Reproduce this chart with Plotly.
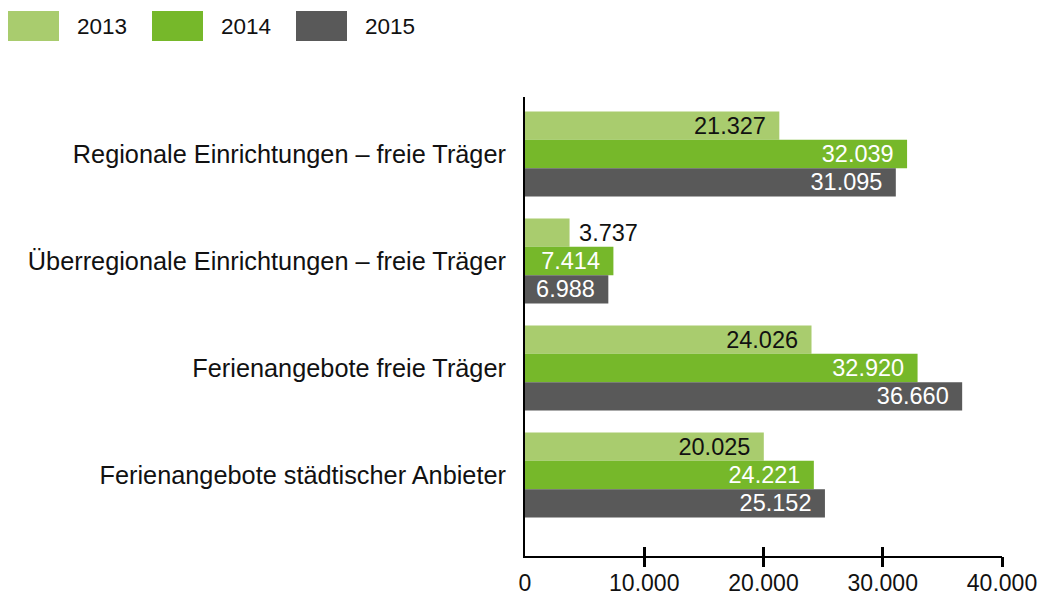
import plotly.graph_objects as go

categories = [
    "Regionale Einrichtungen – freie Träger",
    "Überregionale Einrichtungen – freie Träger",
    "Ferienangebote freie Träger",
    "Ferienangebote städtischer Anbieter",
]
years = ["2013", "2014", "2015"]
values_2013 = [21327, 3737, 24026, 20025]
values_2014 = [32039, 7414, 32920, 24221]
values_2015 = [31095, 6988, 36660, 25152]
x_tickvals = [0, 10000, 20000, 30000, 40000]
x_ticktext = ["0", "10.000", "20.000", "30.000", "40.000"]

colors = ["#A9CC6E", "#76B82A", "#595959"]
inside_text_colors = ["#111111", "#FFFFFF", "#FFFFFF"]
FONT = "Liberation Sans, Arial, Helvetica, sans-serif"
FS_CAT = 25.3
FS_NUM = 23.5
FS_TICK = 23
FS_LEG = 22.5
PAD_IN = "\u00a0\u2006"
PAD_OUT = "\u00a0"

W, H = 1040, 595
L, R, T, B = 525, 38, 97, 39


def fmt(v):
    return f"{v:,}".replace(",", ".")


def bar_width_px(v):
    return v / 40000 * (W - L - R)


fig = go.Figure()
series = [values_2013, values_2014, values_2015]
for name, vals, col, tcol in zip(years, series, colors, inside_text_colors):
    positions = []
    texts = []
    for v in vals:
        label = fmt(v)
        if bar_width_px(v) > len(label) * 12 + 20:
            positions.append("inside")
            texts.append(label + PAD_IN)
        else:
            positions.append("outside")
            texts.append(PAD_OUT + label)
    fig.add_trace(go.Bar(
        name=name,
        y=categories,
        x=vals,
        orientation="h",
        marker=dict(color=col, line=dict(width=0)),
        text=texts,
        textposition=positions,
        insidetextanchor="end",
        constraintext="none",
        insidetextfont=dict(color=tcol, size=FS_NUM, family=FONT),
        outsidetextfont=dict(color="#111111", size=FS_NUM, family=FONT),
        cliponaxis=False,
        showlegend=False,
        hoverinfo="skip",
    ))

# dummy traces so that the tick-mark overlay axes get drawn
for ax in ["x2", "x3"]:
    fig.add_trace(go.Scatter(x=[None], y=[None], xaxis=ax, yaxis="y",
                             mode="markers", showlegend=False, hoverinfo="skip"))

# manual legend (large swatches like the reference)
shapes = []
annotations = []
pw, ph = W - L - R, H - T - B


def px2paper(px, py):
    return (px - L) / pw, (H - B - py) / ph


for i, (name, col) in enumerate(zip(years, colors)):
    x0 = 8 + i * 144
    xa, ya = px2paper(x0, 11)
    xb, yb = px2paper(x0 + 51, 41)
    shapes.append(dict(type="rect", xref="paper", yref="paper", x0=xa, x1=xb,
                       y0=yb, y1=ya, fillcolor=col, line=dict(width=0)))
    tx, ty = px2paper(x0 + 67, 27)
    annotations.append(dict(xref="paper", yref="paper", x=tx, y=ty, text=name,
                            showarrow=False, xanchor="left", yanchor="middle",
                            font=dict(size=FS_LEG, family=FONT, color="#111111")))

tick_axis = dict(
    range=[0, 40000], tickvals=x_tickvals[1:], overlaying="x", anchor="y",
    side="bottom", showgrid=False, zeroline=False, showline=False,
    tickwidth=2.5, tickcolor="#000000", showticklabels=False, automargin=False,
)

fig.update_layout(
    width=W, height=H,
    margin=dict(l=L, r=R, t=T, b=B, pad=0, autoexpand=False),
    paper_bgcolor="white", plot_bgcolor="white",
    barmode="group", bargap=0.206, bargroupgap=0,
    font=dict(family=FONT, size=FS_NUM, color="#111111"),
    shapes=shapes, annotations=annotations,
    xaxis=dict(
        range=[0, 40000], tickvals=x_tickvals, ticktext=x_ticktext,
        showgrid=False, zeroline=False, showline=True, linecolor="#000000",
        linewidth=2, ticks="", ticklabelstandoff=5, automargin=False,
        tickfont=dict(size=FS_TICK, family=FONT, color="#111111"),
    ),
    xaxis2=dict(tick_axis, ticks="outside", ticklen=10),
    xaxis3=dict(tick_axis, ticks="inside", ticklen=9),
    yaxis=dict(
        type="category", range=[3.757, -0.533],
        showgrid=False, zeroline=False, showline=True, linecolor="#000000",
        linewidth=2, ticks="", ticklabelstandoff=12, automargin=False,
        tickfont=dict(size=FS_CAT, family=FONT, color="#111111"),
    ),
)

fig.write_html(
    "out.html",
    config={"displayModeBar": False},
    post_script="document.body.style.margin='0';document.body.style.padding='0';",
)
